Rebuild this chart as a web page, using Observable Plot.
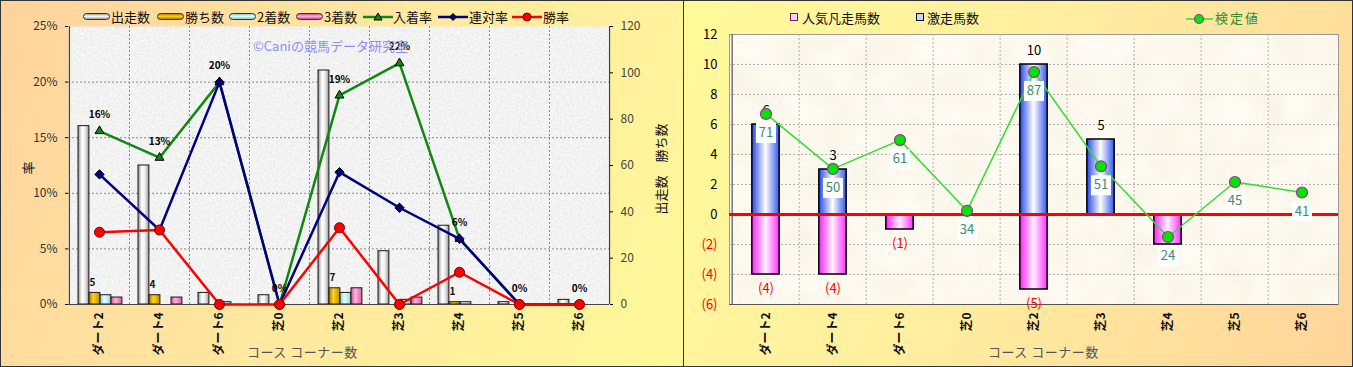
<!DOCTYPE html>
<html><head><meta charset="utf-8">
<script src="https://cdn.jsdelivr.net/npm/d3@7"></script>
<script src="https://cdn.jsdelivr.net/npm/@observablehq/plot@0.6"></script>
<style>
body{margin:0;background:#fff;font-family:"Noto Sans CJK JP","Noto Sans",sans-serif;}
#wrap{position:relative;width:1353px;height:367px;overflow:hidden;}
.panel{position:absolute;top:0;height:367px;}
#left{left:0;width:683px;background:linear-gradient(115deg,#ffd39c 0%,#ffe7a0 45%,#fff99a 100%);}
#right{left:683px;width:670px;background:linear-gradient(115deg,#fffa9a 0%,#ffefa0 45%,#ffd49a 100%);}
.panel svg{position:absolute;left:0;top:0;}
.abs{position:absolute;white-space:nowrap;line-height:1;}
.lg{font-size:13px;color:#111;top:10px;}
.sw{position:absolute;top:13px;width:27px;height:7px;border:1px solid #333;border-radius:4px;box-sizing:border-box;}
.vt{transform:translate(-50%,-50%) rotate(-90deg);font-size:13px;color:#111;}
.xt{font-size:13px;color:#555;top:345px;letter-spacing:0.5px;}
.border{position:absolute;pointer-events:none;box-sizing:border-box;border:1px solid #333;}
</style></head>
<body>
<svg width="0" height="0" style="position:absolute">
<defs>
<filter id="fSpeckle" x="0" y="0" width="100%" height="100%">
  <feTurbulence type="fractalNoise" baseFrequency="0.6" numOctaves="3" seed="5"/>
  <feColorMatrix type="matrix" values="0.4 0 0 0 0.69  0.4 0 0 0 0.69  0.4 0 0 0 0.69  0 0 0 0 1"/>
</filter>
<filter id="fParch" x="0" y="0" width="100%" height="100%">
  <feTurbulence type="fractalNoise" baseFrequency="0.03" numOctaves="3" seed="2"/>
  <feColorMatrix type="matrix" values="0.08 0 0 0 0.94  0.10 0 0 0 0.89  0.16 0 0 0 0.77  0 0 0 0 1"/>
</filter>
<pattern id="pSpeckle" patternUnits="userSpaceOnUse" width="700" height="400"><rect width="700" height="400" filter="url(#fSpeckle)"/></pattern>
<pattern id="pParch" patternUnits="userSpaceOnUse" width="700" height="400"><rect width="700" height="400" filter="url(#fParch)"/></pattern>
<linearGradient id="gRuns" x1="0" x2="1" y1="0" y2="0"><stop offset="0" stop-color="#8a8a8a"/><stop offset="0.35" stop-color="#ffffff"/><stop offset="0.6" stop-color="#f2f2f2"/><stop offset="1" stop-color="#9a9a9a"/></linearGradient>
<linearGradient id="gWins" x1="0" x2="1" y1="0" y2="0"><stop offset="0" stop-color="#b07c00"/><stop offset="0.4" stop-color="#ffd21a"/><stop offset="1" stop-color="#c08e00"/></linearGradient>
<linearGradient id="gSec" x1="0" x2="1" y1="0" y2="0"><stop offset="0" stop-color="#7ccccc"/><stop offset="0.4" stop-color="#e8ffff"/><stop offset="1" stop-color="#8ed6d6"/></linearGradient>
<linearGradient id="gThird" x1="0" x2="1" y1="0" y2="0"><stop offset="0" stop-color="#cc4c98"/><stop offset="0.4" stop-color="#ffb4de"/><stop offset="1" stop-color="#d65ea4"/></linearGradient>
<linearGradient id="gBlue" x1="0" x2="1" y1="0" y2="0"><stop offset="0" stop-color="#2448ee"/><stop offset="0.5" stop-color="#ffffff"/><stop offset="1" stop-color="#3458ee"/></linearGradient>
<linearGradient id="gPink" x1="0" x2="1" y1="0" y2="0"><stop offset="0" stop-color="#ff20ff"/><stop offset="0.5" stop-color="#fff2ff"/><stop offset="1" stop-color="#ff30ff"/></linearGradient>
</defs></svg>

<div id="wrap">
  <div class="panel" id="left"></div>
  <div class="panel" id="right"></div>
  <div class="border" style="left:0;top:0;width:1353px;height:367px;"></div>
  <div class="border" style="left:683px;top:0;width:1px;height:367px;border-width:0 0 0 1px;"></div>
</div>

<script>
// ---------- data ----------
const cats = ["ダート2","ダート4","ダート6","芝0","芝2","芝3","芝4","芝5","芝6"];
// left chart (counts, right axis)
const runs    = [77, 60, 5, 4, 101, 23, 34, 1, 2];
const wins    = [5, 4, 0, 0, 7, 0, 1, 0, 0];
const seconds = [4, 0, 1, 0, 5, 2, 1, 0, 0];
const thirds  = [3, 3, 0, 0, 7, 3, 0, 0, 0];
// left chart (rates %, left axis)
const placeRate    = [15.6, 13.2, 20, 0, 18.8, 21.7, 5.9, 0, 0];
const quinellaRate = [11.7, 6.7, 20, 0, 11.9, 8.7, 5.9, 0, 0];
const winRate      = [6.5, 6.7, 0, 0, 6.9, 0, 2.9, 0, 0];
const placeLabels  = ["16%","13%","20%","0%","19%","22%","6%","0%","0%"];
const winLabels    = ["5","4","","","7","","1","",""];
const rateTicks  = [0, 5, 10, 15, 20, 25];
const countTicks = [0, 20, 40, 60, 80, 100, 120];
// right chart
const surge   = [6, 3, 0, 0, 10, 5, 0, 0, 0];     // 激走馬数
const flop    = [4, 4, 1, 0, 5, 0, 2, 0, 0];      // 人気凡走馬数 (drawn downward)
const surgeLabels = ["6","3","","","10","5","","",""];
const flopLabels  = ["(4)","(4)","(1)","","(5)","","","",""];
const score   = [71, 50, 61, 34, 87, 51, 24, 45, 41]; // 検定値
const posTicks = [0, 2, 4, 6, 8, 10, 12];
const negTicks = [-6, -4, -2];
// hidden secondary axis for 検定値
const scoreBase = 32.6, scoreUnit = 0.1746;

const font = '"Noto Sans CJK JP","Noto Sans",sans-serif';
const H = 367;

// ---------- left chart ----------
{
  const W = 683, mL = 68, mR = 74, mT = 26, mB = 63;
  const bw = (W - mL - mR) / cats.length;
  const k = 25 / 120; // counts -> rate axis
  const rows = cats.map((cat, i) => ({cat, runs: runs[i], wins: wins[i], seconds: seconds[i], thirds: thirds[i],
    place: placeRate[i], quin: quinellaRate[i], win: winRate[i], pl: placeLabels[i], wl: winLabels[i]}));
  const series = [["runs","url(#gRuns)"],["wins","url(#gWins)"],["seconds","url(#gSec)"],["thirds","url(#gThird)"]];
  const barW = 11, off = 9;
  const chart = Plot.plot({
    width: W, height: H, marginLeft: mL, marginRight: mR, marginTop: mT, marginBottom: mB,
    style: {background: "transparent", fontFamily: font, overflow: "visible"},
    x: {type: "band", domain: cats, padding: 0},
    y: {domain: [0, 25]},
    marks: [
      Plot.frame({fill: "url(#pSpeckle)"}),
      Plot.gridY([5, 10, 15, 20], {stroke: "#8a8a8a", strokeOpacity: 1, strokeDasharray: "2,2"}),
      Plot.ruleX(cats.slice(1), {dx: -bw / 2, stroke: "#8a8a8a", strokeDasharray: "2,2"}),
      ...series.map(([key, fill], j) => Plot.barY(rows.filter(d => d[key] > 0), {
        x: "cat", y: d => d[key] * k, fill, stroke: "#1a1a1a", strokeWidth: 1,
        insetLeft: off + j * barW, insetRight: bw - off - (j + 1) * barW})),
      Plot.text(rows.filter(d => d.wl), {x: "cat", y: d => d.wins * k, text: "wl", dx: -7, dy: -10,
        fontSize: 10, fontWeight: "bold", fill: "#111"}),
      Plot.ruleY([0], {stroke: "#444", strokeWidth: 1.2}),
      Plot.ruleX([cats[0]], {dx: -bw / 2, stroke: "#444", strokeWidth: 1.2}),
      Plot.ruleX([cats[cats.length - 1]], {dx: bw / 2, stroke: "#444", strokeWidth: 1.2}),
      Plot.line(rows, {x: "cat", y: "place", stroke: "#118811", strokeWidth: 2.5}),
      Plot.dot(rows, {x: "cat", y: "place", symbol: "triangle", r: 3.3, fill: "#118811", stroke: "#000", strokeWidth: 1}),
      Plot.line(rows, {x: "cat", y: "quin", stroke: "#000080", strokeWidth: 2.5}),
      Plot.dot(rows, {x: "cat", y: "quin", symbol: "diamond2", r: 4.2, fill: "#000080", stroke: "#000", strokeWidth: 1}),
      Plot.line(rows, {x: "cat", y: "win", stroke: "#ff0000", strokeWidth: 2.5}),
      Plot.dot(rows, {x: "cat", y: "win", r: 5, fill: "#ff0000", stroke: "#700000", strokeWidth: 1}),
      Plot.text(rows, {x: "cat", y: "place", text: "pl", dy: -16, fontSize: 10, fontWeight: "bold", fill: "#000"}),
      Plot.axisY(rateTicks, {tickFormat: d => d + "%", tickSize: 3, tickPadding: 8, fontSize: 12, fill: "#333", label: null}),
      Plot.axisY(countTicks.map(v => v * k), {anchor: "right", tickFormat: d => Math.round(d / k), tickSize: 3, tickPadding: 8, fontSize: 12, fill: "#444", label: null}),
      Plot.axisX({tickRotate: -90, tickSize: 0, tickPadding: 8, fontSize: 12, fontWeight: "bold", fill: "#111", label: null})
    ]
  });
  document.getElementById("left").appendChild(chart);
}

// ---------- right chart ----------
{
  const W = 670, mL = 46, mR = 15, mT = 34, mB = 63;
  const bw = (W - mL - mR) / cats.length;
  const ins = (bw - 28) / 2;
  const sy = v => (v - scoreBase) * scoreUnit;
  const rows = cats.map((cat, i) => ({cat, surge: surge[i], flop: flop[i], sl: surgeLabels[i], fl: flopLabels[i], score: score[i]}));
  const chart = Plot.plot({
    width: W, height: H, marginLeft: mL, marginRight: mR, marginTop: mT, marginBottom: mB,
    style: {background: "transparent", fontFamily: font, overflow: "visible"},
    x: {type: "band", domain: cats, padding: 0},
    y: {domain: [-6, 12]},
    marks: [
      Plot.frame({fill: "url(#pParch)", stroke: "#9a9a9a"}),
      Plot.gridY([-4, -2, 2, 4, 6, 8, 10], {stroke: "#b0b0b0", strokeOpacity: 1, strokeDasharray: "2,2"}),
      Plot.ruleX(cats.slice(1), {dx: -bw / 2, stroke: "#b0b0b0", strokeDasharray: "2,2"}),
      Plot.ruleY([-6], {stroke: "#555", strokeWidth: 1.2}),
      Plot.ruleX([cats[0]], {dx: -bw / 2, stroke: "#555", strokeWidth: 1.2}),
      Plot.barY(rows.filter(d => d.surge > 0), {x: "cat", y: "surge", fill: "url(#gBlue)", stroke: "#000", strokeWidth: 1.5, insetLeft: ins, insetRight: ins}),
      Plot.barY(rows.filter(d => d.flop > 0), {x: "cat", y: d => -d.flop, fill: "url(#gPink)", stroke: "#000", strokeWidth: 1.5, insetLeft: ins, insetRight: ins}),
      Plot.ruleY([0], {stroke: "#ff0000", strokeWidth: 3}),
      Plot.text(rows.filter(d => d.sl), {x: "cat", y: "surge", text: "sl", dy: -14, fontSize: 13, fill: "#000"}),
      Plot.text(rows.filter(d => d.fl), {x: "cat", y: d => -d.flop, text: "fl", dy: 14, fontSize: 13, fill: "#ff0000"}),
      Plot.line(rows, {x: "cat", y: d => sy(d.score), stroke: "#33dd33", strokeWidth: 1.5}),
      Plot.dot(rows, {x: "cat", y: d => sy(d.score), dy: 19, symbol: "square", r: 11.3, fill: "#fff"}),
      Plot.text(rows, {x: "cat", y: d => sy(d.score), dy: 19, text: d => String(d.score), fontSize: 13, fill: "#3a8c6e"}),
      Plot.dot(rows, {x: "cat", y: d => sy(d.score), r: 5.5, fill: "#00e600", stroke: "#993399", strokeWidth: 1.2}),
      Plot.axisY(posTicks, {tickSize: 0, tickPadding: 12, fontSize: 13, fill: "#000", label: null}),
      Plot.axisY(negTicks, {tickFormat: d => `(${-d})`, tickSize: 0, tickPadding: 12, fontSize: 13, fill: "#ff0000", label: null}),
      Plot.axisX({tickRotate: -90, tickSize: 0, tickPadding: 8, fontSize: 12, fontWeight: "bold", fill: "#111", label: null})
    ]
  });
  document.getElementById("right").appendChild(chart);
}

// ---------- legends & titles (HTML) ----------
const wrap = document.getElementById("wrap");
function add(html) { wrap.insertAdjacentHTML("beforeend", html); }
const barLegend = [["出走数","gRuns",83],["勝ち数","gWins",157],["2着数","gSec",229],["3着数","gThird",296]];
const grad = {gRuns:"linear-gradient(180deg,#9a9a9a,#fff 45%,#9a9a9a)", gWins:"linear-gradient(180deg,#b08000,#ffd21a 45%,#b08000)",
  gSec:"linear-gradient(180deg,#7ccccc,#eaffff 45%,#7ccccc)", gThird:"linear-gradient(180deg,#cc4c98,#ffb4de 45%,#cc4c98)"};
barLegend.forEach(([t, g, x]) => {
  add(`<div class="sw" style="left:${x}px;background:${grad[g]}"></div><div class="abs lg" style="left:${x + 28}px">${t}</div>`);
});
function lineSwatch(x, color, marker) {
  return `<svg class="abs" style="left:${x}px;top:10px" width="30" height="14"><line x1="0" x2="30" y1="7" y2="7" stroke="${color}" stroke-width="2.5"/>${marker}</svg>`;
}
add(lineSwatch(363, "#118811", `<path d="M15,3 L19,10 L11,10Z" fill="#118811" stroke="#000" stroke-width="1"/>`) + `<div class="abs lg" style="left:393px">入着率</div>`);
add(lineSwatch(438, "#000080", `<path d="M15,3.5 L18.5,7 L15,10.5 L11.5,7Z" fill="#000080" stroke="#000" stroke-width="1"/>`) + `<div class="abs lg" style="left:469px">連対率</div>`);
add(lineSwatch(512, "#ff0000", `<circle cx="15" cy="7" r="4" fill="#ff0000" stroke="#700000"/>`) + `<div class="abs lg" style="left:543px">勝率</div>`);
add(`<div class="abs" style="left:253px;top:39px;font-size:13px;color:#8c8cff">©Caniの競馬データ研究室</div>`);
add(`<div class="abs vt" style="left:27px;top:168px">率</div>`);
add(`<div class="abs vt" style="left:660px;top:169px">出走数　勝ち数</div>`);
add(`<div class="abs xt" style="left:247px">コース コーナー数</div>`);
add(`<div class="abs xt" style="left:988px">コース コーナー数</div>`);
// right legend
add(`<div class="abs" style="left:790px;top:13px;width:8px;height:8px;box-sizing:border-box;border:1.5px solid #662266;background:#ffd0ff"></div><div class="abs lg" style="left:802px;top:11px">人気凡走馬数</div>`);
add(`<div class="abs" style="left:916px;top:13px;width:8px;height:8px;box-sizing:border-box;border:1.5px solid #111;background:#c8d4ff"></div><div class="abs lg" style="left:927px;top:11px">激走馬数</div>`);
add(`<svg class="abs" style="left:1186px;top:12px" width="27" height="14"><line x1="0" x2="27" y1="7" y2="7" stroke="#33dd33" stroke-width="1.5"/><circle cx="13" cy="7" r="4.5" fill="#00e600" stroke="#993399" stroke-width="1.2"/></svg><div class="abs lg" style="left:1215px;top:11px;color:#2e8b2e;letter-spacing:2px">検定値</div>`);
</script>
</body></html>
